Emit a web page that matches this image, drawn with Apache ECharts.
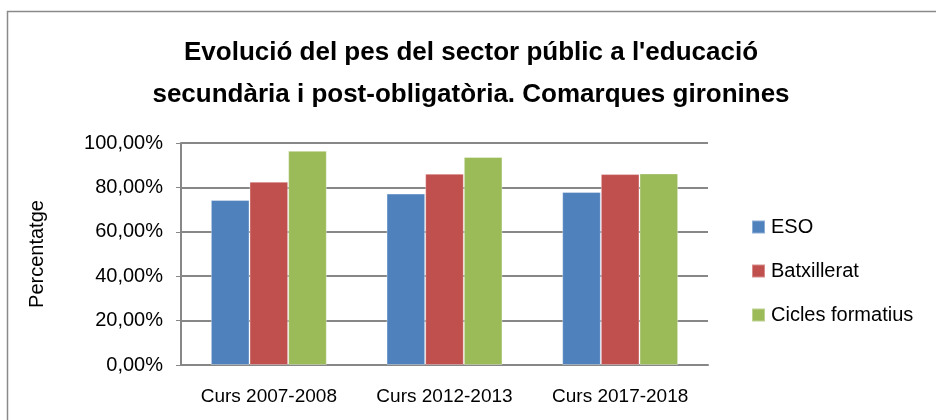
<!DOCTYPE html>
<html>
<head>
<meta charset="utf-8">
<script src="https://cdn.jsdelivr.net/npm/echarts@6/dist/echarts.min.js"></script>
<style>
  html, body { margin: 0; padding: 0; background: #fff; }
  #chart { width: 936px; height: 420px; }
</style>
</head>
<body>
<div id="chart"></div>
<script>
  const categories = ['Curs 2007-2008', 'Curs 2012-2013', 'Curs 2017-2018']
  const seriesNames = ['ESO', 'Batxillerat', 'Cicles formatius']
  const esoValues = [74.3, 77.2, 77.9]
  const batxValues = [82.6, 86.2, 86.0]
  const ciclesValues = [96.5, 93.7, 86.3]
  const colors = ['#4F81BD', '#C0504D', '#9BBB59']

  const font = 'Liberation Sans, Arial, sans-serif'
  const gridColor = '#878787'

  const myChart = echarts.init(document.getElementById('chart'))

  const makeBar = (name, data, i) => ({
    name: name,
    type: 'bar',
    data: data,
    barGap: 0,
    barCategoryGap: '34%',
    itemStyle: { color: colors[i], borderColor: 'rgba(255,255,255,0.35)', borderWidth: 1 }
  })

  myChart.setOption({
    animation: false,
    color: colors,
    title: {
      text: "Evolució del pes del sector públic a l'educació\nsecundària i post-obligatòria. Comarques gironines",
      left: 466,
      top: 27,
      textAlign: 'center',
      textStyle: { fontFamily: font, fontWeight: 'bold', fontSize: 26, lineHeight: 42, color: '#000' }
    },
    legend: {
      orient: 'vertical',
      left: 746,
      top: 212,
      itemWidth: 13,
      itemHeight: 13,
      itemGap: 24,
      icon: 'rect',
      textStyle: { fontFamily: font, fontSize: 20, color: '#000', padding: [0, 0, 0, 1] },
      data: seriesNames
    },
    grid: { left: 181, right: 228, top: 143, bottom: 55 },
    xAxis: {
      type: 'category',
      data: categories,
      axisLine: { lineStyle: { color: gridColor, width: 2 } },
      axisTick: { show: false },
      axisLabel: { interval: 0, hideOverlap: false, fontFamily: font, fontSize: 19, color: '#000', margin: 22 }
    },
    yAxis: {
      type: 'value',
      min: 0,
      max: 100,
      interval: 20,
      name: 'Percentatge',
      nameLocation: 'middle',
      nameGap: 134,
      nameRotate: 90,
      nameTextStyle: { fontFamily: font, fontSize: 20, color: '#000' },
      axisLine: { show: true, lineStyle: { color: gridColor, width: 2 } },
      axisTick: { show: true, length: 5, lineStyle: { color: gridColor } },
      axisLabel: {
        fontFamily: font,
        fontSize: 20,
        color: '#000',
        margin: 18,
        formatter: v => v.toFixed(2).replace('.', ',') + '%'
      },
      splitLine: { lineStyle: { color: gridColor, width: 2 } }
    },
    graphic: [{
      type: 'rect',
      shape: { x: 7.5, y: 11.5, width: 1000, height: 500 },
      style: { fill: 'none', stroke: '#8a8a8a', lineWidth: 1.5 },
      silent: true
    }],
    series: [
      makeBar(seriesNames[0], esoValues, 0),
      makeBar(seriesNames[1], batxValues, 1),
      makeBar(seriesNames[2], ciclesValues, 2)
    ]
  })
</script>
</body>
</html>
